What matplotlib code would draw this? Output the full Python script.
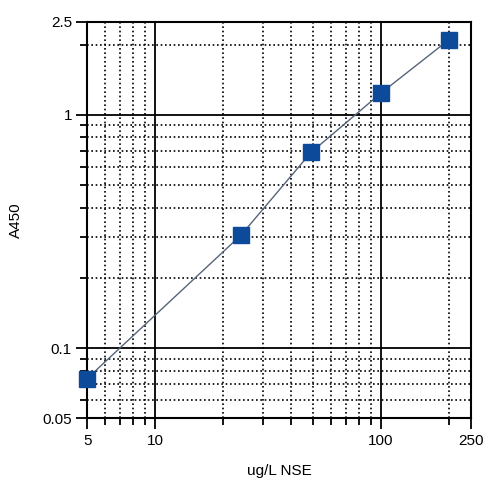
import matplotlib
matplotlib.use("Agg")
import matplotlib.pyplot as plt
import matplotlib.ticker as mticker

# standard curve readings
conc = [5, 24, 49, 100, 200]
a450 = [0.074, 0.305, 0.69, 1.24, 2.1]

x_ticks = [5, 10, 100, 250]
x_labels = ['5', '10', '100', '250']
y_ticks = [0.05, 0.1, 1, 2.5]
y_labels = ['0.05', '0.1', '1', '2.5']

plt.rcParams['font.family'] = ['Liberation Sans', 'DejaVu Sans']

fig = plt.figure(figsize=(4.87, 4.78), dpi=100)
ax = fig.add_axes([0.179, 0.125, 0.788, 0.829])

ax.set_xscale('log')
ax.set_yscale('log')
ax.set_xlim(5, 250)
ax.set_ylim(0.05, 2.5)

ax.set_xticks(x_ticks)
ax.set_xticklabels(x_labels)
ax.set_yticks(y_ticks)
ax.set_yticklabels(y_labels)
ax.xaxis.set_minor_locator(mticker.LogLocator(base=10, subs=range(2, 10)))
ax.yaxis.set_minor_locator(mticker.LogLocator(base=10, subs=range(2, 10)))
ax.xaxis.set_minor_formatter(mticker.NullFormatter())
ax.yaxis.set_minor_formatter(mticker.NullFormatter())

ax.grid(which='major', color='black', linestyle='-', linewidth=1.3)
ax.grid(which='minor', color='black', linestyle=(0, (1, 1.6)), linewidth=1.2)
ax.set_axisbelow(True)

ax.tick_params(which='major', direction='out', length=8, width=1.3, labelsize=11, pad=3)
ax.tick_params(which='minor', direction='out', length=5, width=1.3)
for sp in ax.spines.values():
    sp.set_linewidth(1.5)

ax.plot(conc, a450, color='#56657a', linewidth=1.0, zorder=3)
ax.plot(conc, a450, 's', color='#0d4a9a', markersize=11, zorder=4, clip_on=False)

ax.set_xlabel('ug/L NSE', fontsize=11, labelpad=12)
ax.set_ylabel('A450', fontsize=11, labelpad=14)

fig.savefig('out.png', dpi=100)
